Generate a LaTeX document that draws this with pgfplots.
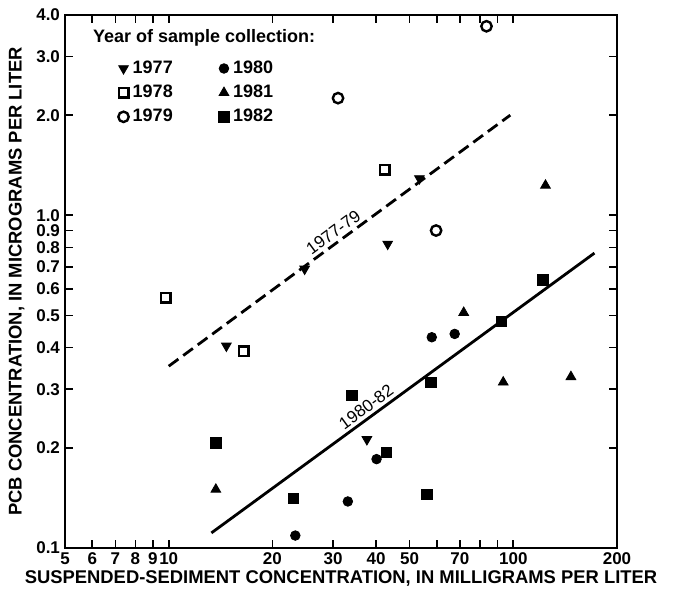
\documentclass[border=0pt]{standalone}
\usepackage{fontspec}
\setmainfont{Liberation Sans}
\usepackage{pgfplots}
\pgfplotsset{compat=1.18}

\begin{document}
\begin{tikzpicture}
\useasboundingbox (-32.5pt,-22pt) rectangle (307.5pt,274pt);
\begin{axis}[
    at={(0pt,0pt)}, anchor=south west,
    width=276pt, height=266.5pt, scale only axis,
    xmode=log, ymode=log,
    xmin=5, xmax=200, ymin=0.1, ymax=4,
    xtick={5,6,7,8,9,10,20,30,40,50,60,70,80,90,100,200},
    xticklabels={5,6,7,8,9,10,20,30,40,50,,70,,,100,200},
    ytick={0.1,0.2,0.3,0.4,0.5,0.6,0.7,0.8,0.9,1,2,3,4},
    yticklabels={0.1,0.2,0.3,0.4,0.5,0.6,0.7,0.8,0.9,1.0,2.0,3.0,4.0},
    minor xtick={}, minor ytick={},
    axis line style={line width=1.4pt},
    tick style={line width=0.8pt, black},
    tick align=inside, major tick length=4pt,
    /pgf/number format/assume math mode=true,
    tick label style={font=\fontsize{8.5}{9}\selectfont\bfseries},
    xticklabel style={yshift=1pt},
    yticklabel style={xshift=1pt},
    xlabel={SUSPENDED-SEDIMENT CONCENTRATION, IN MILLIGRAMS PER LITER},
    ylabel={PCB CONCENTRATION, IN MICROGRAMS PER LITER},
    label style={font=\fontsize{9.2}{10}\selectfont\bfseries},
    xlabel style={yshift=4pt},
    ylabel style={yshift=-1pt},
    legend columns=2,
    legend style={draw=none, fill=none, at={(0.085,0.93)}, anchor=north west,
        font=\fontsize{9}{10}\selectfont\bfseries,
        row sep=0.3pt,
        /tikz/every even column/.append style={column sep=21pt}},
    legend cell align=left,
]
% fitted lines
\addplot[forget plot, black, line width=1.4pt, dash pattern=on 6pt off 3pt]
  coordinates {(10,0.352)(98,2.0)}
  node[pos=0.5, sloped, above, font=\fontsize{8.5}{9}\selectfont, inner sep=1.5pt] {1977-79};
\addplot[forget plot, black, line width=1.4pt]
  coordinates {(13.3,0.111)(172,0.77)}
  node[pos=0.42, sloped, above, font=\fontsize{8.5}{9}\selectfont, inner sep=1.5pt] {1980-82};

% 1977
\addplot[only marks, black, mark=triangle*, mark size=2.8pt, mark options={rotate=180}]
  coordinates {(14.7,0.405)(24.8,0.69)(43.2,0.82)(53.4,1.29)(37.6,0.212)};
\addlegendentry{1977}
% 1980
\addplot[only marks, black, mark=*, mark size=2.4pt]
  coordinates {(23.3,0.109)(33.1,0.138)(40.1,0.185)(58.0,0.43)(67.6,0.44)};
\addlegendentry{1980}
% 1978
\addplot[only marks, black, mark=square, mark size=2.4pt, mark options={line width=1.2pt}]
  coordinates {(9.8,0.565)(16.5,0.39)(42.3,1.37)};
\addlegendentry{1978}
% 1981
\addplot[only marks, black, mark=triangle*, mark size=2.8pt]
  coordinates {(13.7,0.150)(71.8,0.51)(93.5,0.315)(147,0.327)(124,1.23)};
\addlegendentry{1981}
% 1979
\addplot[only marks, black, mark=o, mark size=2.6pt, mark options={line width=1.2pt}]
  coordinates {(31.0,2.25)(83.6,3.70)(59.7,0.90)};
\addlegendentry{1979}
% 1982
\addplot[only marks, black, mark=square*, mark size=2.6pt]
  coordinates {(13.7,0.207)(23.0,0.141)(34.0,0.288)(42.9,0.194)(57.7,0.315)(56.2,0.145)(92.5,0.479)(122,0.64)};
\addlegendentry{1982}

\node[anchor=west, font=\fontsize{9}{10}\selectfont\bfseries]
  at (rel axis cs:0.038,0.957) {Year of sample collection:};
\end{axis}
\end{tikzpicture}
\end{document}
